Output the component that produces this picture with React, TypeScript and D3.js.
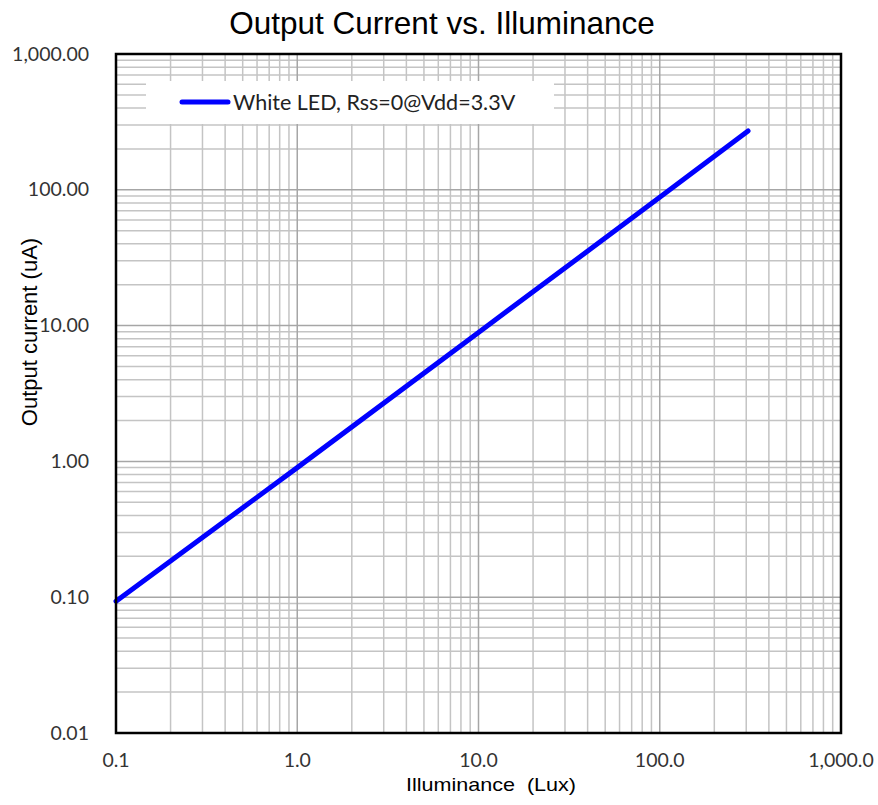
import React from "react";
import * as d3 from "d3";

const title = "Output Current vs. Illuminance";
const xLabel = "Illuminance  (Lux)";
const yLabel = "Output current (uA)";
const seriesName = "White LED, Rss=0@Vdd=3.3V";
const lux = [0.1, 1, 10, 100, 307];
const currentUA = [0.0935, 0.9, 8.9, 88, 271];
const xTicks = [0.1, 1, 10, 100, 1000];
const xTickLabels = ["0.1", "1.0", "10.0", "100.0", "1,000.0"];
const yTicks = [0.01, 0.1, 1, 10, 100, 1000];
const yTickLabels = ["0.01", "0.10", "1.00", "10.00", "100.00", "1,000.00"];

export default function App() {
  const W = 878, H = 805;
  const L = 116, R = 841, T = 54, B = 733;
  const x = d3.scaleLog().domain([0.1, 1000]).range([L, R]);
  const y = d3.scaleLog().domain([0.01, 1000]).range([B, T]);

  const minorX: number[] = [];
  for (let d = -1; d < 3; d++) for (let k = 2; k <= 9; k++) minorX.push(k * Math.pow(10, d));
  const minorY: number[] = [];
  for (let d = -2; d < 3; d++) for (let k = 2; k <= 9; k++) minorY.push(k * Math.pow(10, d));

  const line = d3.line<number>().x((_, i) => x(lux[i])).y((d) => y(d));
  const pts = currentUA;

  const tickFont = "Lato, 'Open Sans', sans-serif";
  const arial = "'Liberation Sans', Arial, sans-serif";
  const legX = 146, legY = 81, legW = 408, legH = 43;

  return (
    <svg width={W} height={H} style={{ position: "absolute", left: 0, top: 0, background: "#fff" }}>
      <rect x={0} y={0} width={W} height={H} fill="#fff" />
      <text x={442} y={34} textAnchor="middle" fontFamily={arial} fontSize={31.5} fill="#000">
        {title}
      </text>
      {minorX.map((v, i) => (
        <line key={"mx" + i} x1={x(v)} x2={x(v)} y1={T} y2={B} stroke="#c4c4c4" strokeWidth={1.5} />
      ))}
      {minorY.map((v, i) => (
        <line key={"my" + i} x1={L} x2={R} y1={y(v)} y2={y(v)} stroke="#c4c4c4" strokeWidth={1.5} />
      ))}
      {xTicks.map((v, i) => (
        <line key={"Mx" + i} x1={x(v)} x2={x(v)} y1={T} y2={B} stroke="#a6a6a6" strokeWidth={1.5} />
      ))}
      {yTicks.map((v, i) => (
        <line key={"My" + i} x1={L} x2={R} y1={y(v)} y2={y(v)} stroke="#a6a6a6" strokeWidth={1.5} />
      ))}
      <rect x={legX} y={legY} width={legW} height={legH} fill="#fff" />
      <line x1={182} x2={228} y1={102} y2={102} stroke="#0000ff" strokeWidth={5} strokeLinecap="round" />
      <text x={233} y={109.5} fontFamily={tickFont} fontSize={21.5} fill="#222">
        {seriesName}
      </text>
      <path d={line(pts) || ""} fill="none" stroke="#0000ff" strokeWidth={5} strokeLinecap="round" />
      <rect x={L} y={T} width={R - L} height={B - T} fill="none" stroke="#000" strokeWidth={2.5} />
      {yTicks.map((v, i) => (
        <text key={"yl" + i} x={89} y={y(v) + 6.5} textAnchor="end" fontFamily={tickFont} fontSize={19.5} fill="#333">
          {yTickLabels[i]}
        </text>
      ))}
      {xTicks.map((v, i) => (
        <text key={"xl" + i} x={x(v)} y={767} textAnchor="middle" fontFamily={tickFont} fontSize={19.5} fill="#333">
          {xTickLabels[i]}
        </text>
      ))}
      <text
        x={406}
        y={791}
        fontFamily={arial}
        fontSize={19}
        fill="#000"
        textLength={170}
        lengthAdjust="spacingAndGlyphs"
        style={{ whiteSpace: "pre" }}
      >
        {xLabel}
      </text>
      <text
        transform={`translate(37, 332) rotate(-90)`}
        textAnchor="middle"
        fontFamily={arial}
        fontSize={22}
        fill="#000"
      >
        {yLabel}
      </text>
    </svg>
  );
}
